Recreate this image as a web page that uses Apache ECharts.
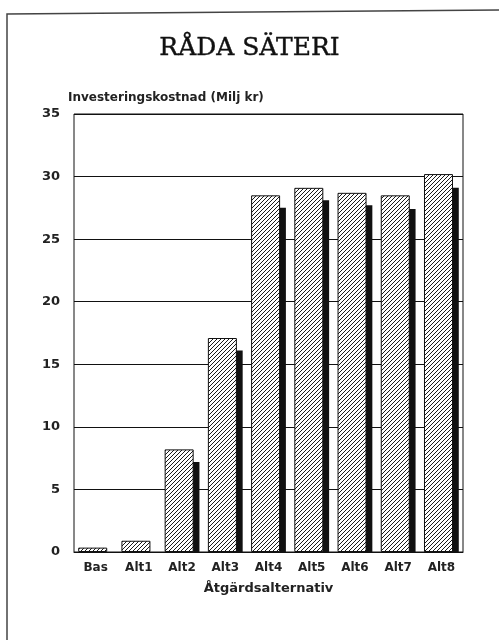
<!DOCTYPE html>
<html>
<head>
<meta charset="utf-8">
<script src="https://cdn.jsdelivr.net/npm/echarts@6/dist/echarts.min.js"></script>
<style>
  html, body { margin: 0; padding: 0; background: #fff; }
  #chart { width: 499px; height: 640px; }
</style>
</head>
<body>
<div id="chart"></div>
<script>
// data
var categories = ["Bas", "Alt1", "Alt2", "Alt3", "Alt4", "Alt5", "Alt6", "Alt7", "Alt8"];
var kostnad = [0.35, 0.9, 8.2, 17.1, 28.5, 29.1, 28.7, 28.5, 30.2];
var skugga = [0, 0, 7.2, 16.1, 27.5, 28.1, 27.7, 27.4, 29.1];
var yTicks = [0, 5, 10, 15, 20, 25, 30, 35];

// hatch pattern for the bars
function makeHatch() {
  var c = document.createElement("canvas");
  c.width = 4;
  c.height = 4;
  var ctx = c.getContext("2d");
  ctx.fillStyle = "#fff";
  ctx.fillRect(0, 0, 4, 4);
  ctx.strokeStyle = "#1a1a1a";
  ctx.lineWidth = 1;
  ctx.beginPath();
  ctx.moveTo(-1, 5); ctx.lineTo(5, -1);
  ctx.moveTo(-1, 1); ctx.lineTo(1, -1);
  ctx.moveTo(3, 5); ctx.lineTo(5, 3);
  ctx.stroke();
  return c;
}

var font = "DejaVu Sans";
var myChart = echarts.init(document.getElementById("chart"));
var option = {
  backgroundColor: "#fff",
  animation: false,
  title: {
    text: "RÅDA SÄTERI",
    left: "center",
    top: 31,
    textStyle: {
      fontFamily: "DejaVu Serif",
      fontSize: 25,
      fontWeight: "normal",
      color: "#111",
      textBorderColor: "#111",
      textBorderWidth: 0.4
    }
  },
  graphic: [
    {
      type: "polyline",
      shape: { points: [[7, 640], [7, 14], [499, 10]] },
      style: { stroke: "#444", lineWidth: 1.5, fill: null }
    }
  ],
  grid: {
    left: 74,
    right: 36,
    top: 114,
    bottom: 88,
    show: true,
    borderColor: "#111",
    borderWidth: 1
  },
  xAxis: {
    type: "category",
    data: categories,
    name: "Åtgärdsalternativ",
    nameLocation: "middle",
    nameGap: 30,
    nameTextStyle: { fontFamily: font, fontWeight: "bold", fontSize: 13, color: "#222" },
    axisLine: { lineStyle: { color: "#111", width: 1 } },
    axisTick: { show: false },
    axisLabel: { fontFamily: font, fontWeight: "bold", fontSize: 12, color: "#222", margin: 10 }
  },
  yAxis: {
    type: "value",
    min: yTicks[0],
    max: yTicks[yTicks.length - 1],
    interval: 5,
    name: "Investeringskostnad (Milj kr)",
    nameLocation: "end",
    nameGap: 10,
    nameTextStyle: {
      fontFamily: font, fontWeight: "bold", fontSize: 12, color: "#222",
      align: "left", padding: [0, 0, 0, -6]
    },
    axisLine: { show: false },
    axisTick: { show: false },
    axisLabel: { fontFamily: font, fontWeight: "bold", fontSize: 13, color: "#222", margin: 14 },
    splitLine: { lineStyle: { color: "#111", width: 1 } }
  },
  series: [
    {
      type: "bar",
      data: kostnad,
      barWidth: 29,
      barGap: "-80%",
      z: 3,
      itemStyle: {
        color: { image: makeHatch(), repeat: "repeat" },
        borderColor: "#111",
        borderWidth: 1
      }
    },
    {
      type: "bar",
      data: skugga,
      barWidth: 29,
      z: 2,
      itemStyle: { color: "#111" }
    }
  ]
};
myChart.setOption(option);
window.onresize = function() {
  myChart.resize();
};
</script>
</body>
</html>
